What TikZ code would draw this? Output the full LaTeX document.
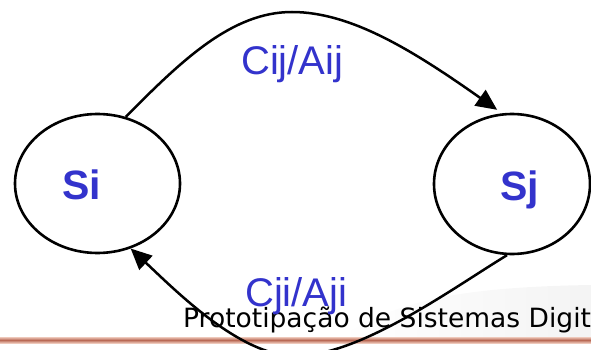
\documentclass[tikz,border=0pt]{standalone}
\usepackage{fontspec}
\setmainfont{Liberation Sans}
\newfontfamily\footfont{DejaVu Sans}
\usetikzlibrary{shapes.geometric,arrows.meta}
\definecolor{labblue}{RGB}{51,51,204}
\definecolor{barbrown}{RGB}{185,105,85}
\definecolor{barpale}{RGB}{238,200,186}

\begin{document}
\begin{tikzpicture}[x=1pt,y=-1pt,
  state/.style={draw,ellipse,line width=2.6pt,inner sep=0pt},
  statename/.style={text=labblue,font=\fontsize{41}{41}\selectfont\bfseries,anchor=base,inner sep=0pt},
  trlabel/.style={text=labblue,font=\fontsize{40}{40}\selectfont,anchor=base west,inner sep=0pt},
  trans/.style={line width=2.5pt,-{Triangle[length=21pt,width=19pt]}}]
  \useasboundingbox (0,0) rectangle (591,350);
  \clip (0,0) rectangle (591,350);
  % slide background: swoosh and bar
  \shade[left color=white,right color=gray!9] (340,337) .. controls (400,298) and (470,287) .. (591,285) -- (591,337) -- cycle;
  \shade[top color=barpale,bottom color=barbrown] (0,337) rectangle (591,340);
  \shade[top color=barbrown,bottom color=barpale] (0,340) rectangle (591,343);
  \node[anchor=base west,inner sep=0pt,font=\footfont\fontsize{26.5}{26.5}\selectfont] (foot) at (183,327) {Prototipação de Sistemas Digit};
  % states
  \node[state,minimum width=165pt,minimum height=139pt] (Si) at (97.5,183.5) {};
  \node[state,minimum width=156pt,minimum height=140pt] (Sj) at (512,184) {};
  \node[statename] (Si-name) at (81.5,199) {Si};
  \node[statename] (Sj-name) at (520,200) {Sj};
  % transitions
  \draw[trans,shorten >=6pt] (Si.67) .. controls (182,60) and (232,12) .. (292,12)
    .. controls (352,12) and (415,52) .. (Sj.98);
  \draw[trans] (Sj.266) .. controls (450,290) and (360,356) .. (295,356)
    .. controls (240,356) and (175,290) .. (Si.-63);
  \node[trlabel] (ij) at (241,75) {Cij/Aij};
  \node[trlabel] (ji) at (245,306) {Cji/Aji};
\end{tikzpicture}
\end{document}
